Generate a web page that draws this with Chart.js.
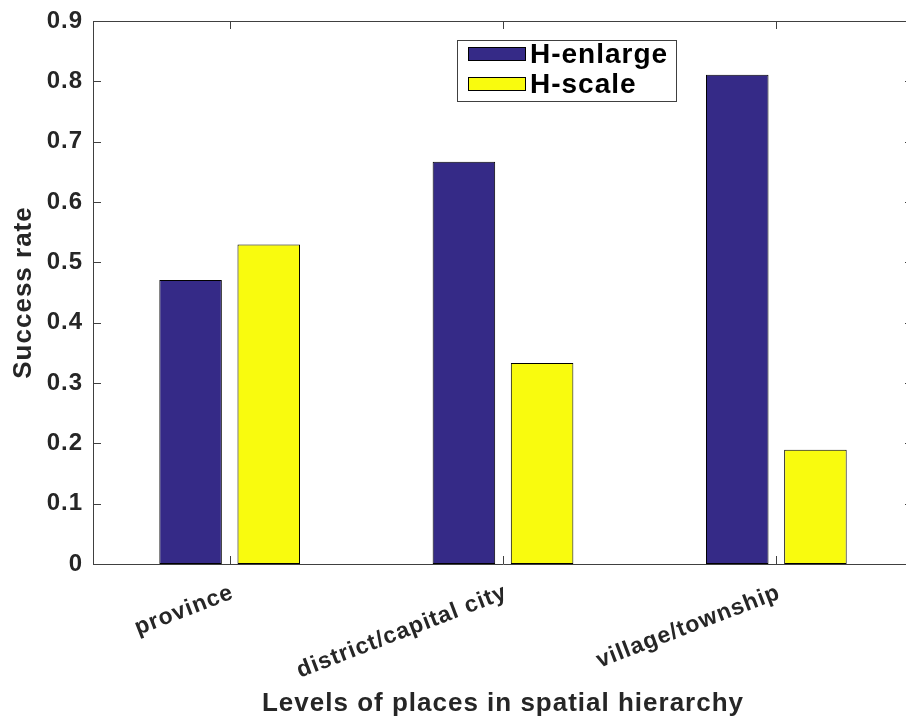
<!DOCTYPE html>
<html>
<head>
<meta charset="utf-8">
<script src="https://cdn.jsdelivr.net/npm/chart.js@4/dist/chart.umd.min.js"></script>
<style>
  html, body { margin: 0; padding: 0; overflow: hidden; background: #fff; }
  #wrap { width: 915px; height: 719px; }
</style>
</head>
<body>
<div id="wrap"><canvas id="rateChart" width="915" height="719"></canvas></div>
<script>
const categories = ['province', 'district/capital city', 'village/township'];
const seriesNames = ['H-enlarge', 'H-scale'];
const hEnlarge = [0.4706, 0.6667, 0.8108];
const hScale = [0.5294, 0.3333, 0.1892];
const yMin = 0, yMax = 0.9, yStep = 0.1;

const blue = '#352a87';
const yellow = '#f9fb0e';
const axisColor = '#262626';
const FONT = '"Liberation Sans", Arial, Helvetica, sans-serif';

function spacing(chart) {
    chart.ctx.letterSpacing = '1px';
}

// MATLAB style box with inward ticks
const framePlugin = {
    id: 'frame',
    beforeUpdate: spacing,
    beforeDraw: spacing,
    afterDatasetsDraw(chart) {
        const ctx = chart.ctx;
        const a = chart.chartArea;
        const x = chart.scales.x, y = chart.scales.y;
        const tl = 8;
        ctx.save();
        ctx.strokeStyle = '#404040';
        ctx.lineWidth = 1;
        ctx.beginPath();
        ctx.rect(a.left + 0.5, a.top + 0.5, a.right - a.left, a.bottom - a.top);
        y.ticks.forEach(t => {
            const py = Math.round(y.getPixelForValue(t.value)) + 0.5;
            ctx.moveTo(a.left, py); ctx.lineTo(a.left + tl, py);
            ctx.moveTo(a.right, py); ctx.lineTo(a.right - tl, py);
        });
        categories.forEach((c, i) => {
            const px = Math.round(x.getPixelForValue(i)) + 0.5;
            ctx.moveTo(px, a.bottom); ctx.lineTo(px, a.bottom - tl);
            ctx.moveTo(px, a.top); ctx.lineTo(px, a.top + tl);
        });
        ctx.stroke();
        ctx.restore();
    },
    afterDraw(chart) {
        // legend box
        const ctx = chart.ctx;
        const bx = 457, by = 40, bw = 219, bh = 61;
        ctx.save();
        ctx.letterSpacing = '1px';
        ctx.fillStyle = '#fff';
        ctx.fillRect(bx, by, bw, bh);
        ctx.strokeStyle = '#404040';
        ctx.lineWidth = 1;
        ctx.strokeRect(bx + 0.5, by + 0.5, bw, bh);
        chart.data.datasets.forEach((ds, i) => {
            const sy = 47 + i * 30;
            ctx.fillStyle = ds.backgroundColor;
            ctx.fillRect(468, sy, 58, 13);
            ctx.strokeStyle = '#000';
            ctx.strokeRect(468.5, sy + 0.5, 57, 13);
            ctx.fillStyle = '#000';
            ctx.font = 'bold 28px ' + FONT;
            ctx.textBaseline = 'alphabetic';
            ctx.textAlign = 'left';
            ctx.fillText(ds.label, 530, sy + 16);
        });
        ctx.restore();
    }
};

new Chart(document.getElementById('rateChart'), {
    type: 'bar',
    data: {
        labels: categories,
        datasets: [
            { label: seriesNames[0], data: hEnlarge, backgroundColor: blue, borderColor: '#000', borderWidth: 1, borderSkipped: false },
            { label: seriesNames[1], data: hScale, backgroundColor: yellow, borderColor: '#000', borderWidth: 1, borderSkipped: false }
        ]
    },
    options: {
        responsive: false,
        animation: false,
        devicePixelRatio: 1,
        layout: { padding: { top: 21, right: 2, left: 0, bottom: 0 } },
        datasets: { bar: { categoryPercentage: 0.572, barPercentage: 0.8 } },
        plugins: { legend: { display: false }, tooltip: { enabled: false } },
        scales: {
            x: {
                offset: true,
                grid: { display: false, drawTicks: false },
                border: { display: false },
                ticks: {
                    color: axisColor,
                    font: { family: FONT, size: 23, weight: 'bold' },
                    minRotation: 21,
                    maxRotation: 21,
                    padding: 15,
                    labelOffset: 3
                },
                title: {
                    display: true,
                    text: 'Levels of places in spatial hierarchy',
                    color: axisColor,
                    font: { family: FONT, size: 26, weight: 'bold', lineHeight: 1.2 },
                    padding: { top: 0, bottom: 0 }
                },
                afterFit(scale) { scale.height = 155; scale.paddingLeft = 0; scale.paddingRight = 0; }
            },
            y: {
                min: yMin,
                max: yMax,
                grid: { display: false, drawTicks: false },
                border: { display: false },
                ticks: {
                    stepSize: yStep,
                    color: axisColor,
                    font: { family: FONT, size: 24, weight: 'bold' },
                    padding: 10,
                    callback: v => String(Number(v.toFixed(1)))
                },
                title: {
                    display: true,
                    text: 'Success rate',
                    color: axisColor,
                    font: { family: FONT, size: 26, weight: 'bold', lineHeight: 1.2 },
                    padding: { top: 8, bottom: 0 }
                },
                afterFit(scale) { scale.width = 93; scale.paddingTop = 0; scale.paddingBottom = 0; }
            }
        }
    },
    plugins: [framePlugin]
});
</script>
</body>
</html>
